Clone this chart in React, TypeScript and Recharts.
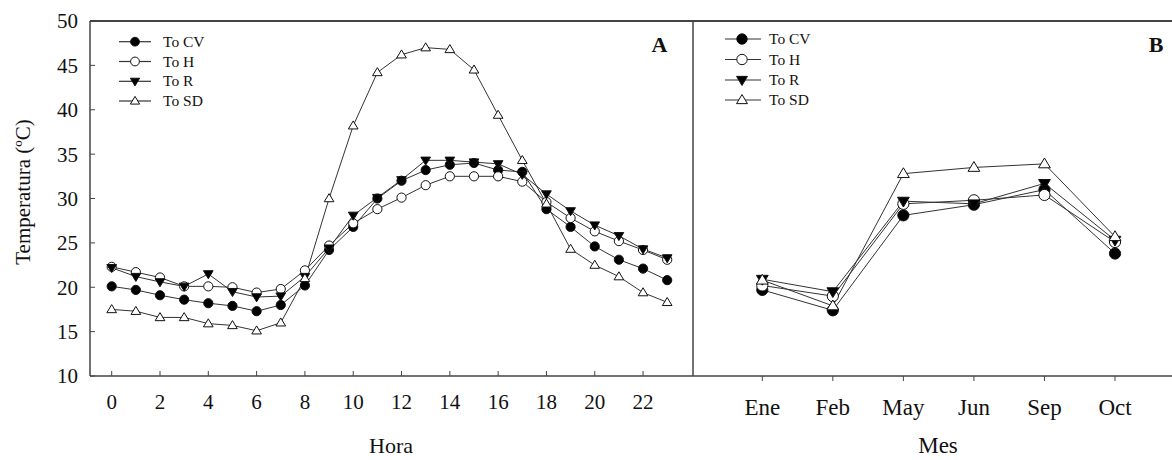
import React from 'react';
import { LineChart, Line, XAxis, YAxis, ReferenceLine, Customized } from 'recharts';

// ---- Data ----
const hours = [0, 1, 2, 3, 4, 5, 6, 7, 8, 9, 10, 11, 12, 13, 14, 15, 16, 17, 18, 19, 20, 21, 22, 23];
const hourlyCV = [20.1, 19.7, 19.1, 18.6, 18.2, 17.9, 17.3, 18.0, 20.2, 24.2, 26.8, 30.0, 32.0, 33.2, 33.8, 34.0, 33.2, 33.0, 28.8, 26.8, 24.6, 23.1, 22.1, 20.8];
const hourlyH = [22.3, 21.7, 21.1, 20.1, 20.1, 20.0, 19.4, 19.8, 21.9, 24.7, 27.2, 28.8, 30.1, 31.5, 32.5, 32.5, 32.5, 31.9, 29.6, 27.8, 26.3, 25.2, 24.2, 23.1];
const hourlyR = [22.2, 21.2, 20.6, 20.1, 21.5, 19.5, 18.9, 19.0, 21.2, 24.4, 28.1, 30.1, 32.1, 34.3, 34.3, 34.1, 33.9, 32.7, 30.5, 28.6, 27.0, 25.8, 24.3, 23.3];
const hourlySD = [17.5, 17.3, 16.6, 16.6, 15.9, 15.7, 15.1, 16.0, 21.0, 30.0, 38.2, 44.2, 46.2, 47.0, 46.8, 44.5, 39.4, 34.3, 29.4, 24.3, 22.5, 21.2, 19.4, 18.3];

const months = ['Ene', 'Feb', 'May', 'Jun', 'Sep', 'Oct'];
const monthCV = [19.7, 17.4, 28.1, 29.3, 31.0, 23.8];
const monthH = [20.2, 19.0, 29.4, 29.8, 30.4, 25.1];
const monthR = [20.9, 19.5, 29.7, 29.4, 31.7, 25.3];
const monthSD = [20.8, 17.9, 32.8, 33.5, 33.9, 25.7];

const yTicks = [10, 15, 20, 25, 30, 35, 40, 45, 50];

const hourlyData = hours.map((h, i) => ({ hour: h, cv: hourlyCV[i], h: hourlyH[i], r: hourlyR[i], sd: hourlySD[i] }));
const monthlyData = months.map((m, i) => ({ month: m, cv: monthCV[i], h: monthH[i], r: monthR[i], sd: monthSD[i] }));

// ---- Styles ----
const FONT = '"Liberation Serif", "Times New Roman", serif';
const INK = '#111';
const LINE = '#333';
const AXIS = '#444';

type Shape = 'circle' | 'down' | 'up';
const series: { key: string; name: string; shape: Shape; fill: string }[] = [
  { key: 'cv', name: 'To CV', shape: 'circle', fill: '#000' },
  { key: 'h', name: 'To H', shape: 'circle', fill: '#fff' },
  { key: 'r', name: 'To R', shape: 'down', fill: '#000' },
  { key: 'sd', name: 'To SD', shape: 'up', fill: '#fff' },
];

function marker(cx: number, cy: number, shape: Shape, fill: string, size: number, key?: any) {
  if (cx == null || cy == null || isNaN(cx) || isNaN(cy)) return <g key={key} />;
  if (shape === 'circle') {
    return <circle key={key} cx={cx} cy={cy} r={size} fill={fill} stroke={INK} strokeWidth={1} />;
  }
  const w = size * 1.05;
  const h = size * 1.75;
  const pts =
    shape === 'up'
      ? `${cx},${cy - h * 0.6} ${cx - w},${cy + h * 0.4} ${cx + w},${cy + h * 0.4}`
      : `${cx},${cy + h * 0.6} ${cx - w},${cy - h * 0.4} ${cx + w},${cy - h * 0.4}`;
  return <polygon key={key} points={pts} fill={fill} stroke={INK} strokeWidth={1} />;
}

function LegendBox({ x0, x1, mx, tx, rows, size }: { x0: number; x1: number; mx: number; tx: number; rows: number[]; size: number }) {
  return (
    <g>
      {series.map((s, i) => (
        <g key={s.key}>
          <line x1={x0} x2={x1} y1={rows[i]} y2={rows[i]} stroke={LINE} strokeWidth={1.2} />
          {marker(mx, rows[i], s.shape, s.fill, size)}
          <text x={tx} y={rows[i] + 5} fontFamily={FONT} fontSize={15.5} fill={INK}>
            {s.name}
          </text>
        </g>
      ))}
    </g>
  );
}

const tickStyleA = { fontFamily: FONT, fontSize: 21, fill: INK };
const tickStyleB = { fontFamily: FONT, fontSize: 23, fill: INK };

function PanelA() {
  return (
    <LineChart width={694} height={460} data={hourlyData} margin={{ top: 21, right: 0, bottom: 0, left: 0 }}>
      <XAxis
        dataKey="hour"
        interval={1}
        padding={{ left: 21.7, right: 25.8 }}
        height={84}
        tickSize={-5}
        tickMargin={23}
        tick={tickStyleA}
        tickLine={{ stroke: AXIS }}
        axisLine={{ stroke: AXIS, strokeWidth: 1.5 }}
      />
      <YAxis
        yAxisId="l"
        domain={[10, 50]}
        ticks={yTicks}
        type="number"
        width={90}
        tickSize={-5}
        tickMargin={17}
        tick={tickStyleA}
        tickLine={{ stroke: AXIS }}
        axisLine={{ stroke: AXIS, strokeWidth: 1.5 }}
        allowDataOverflow
      />
      <YAxis
        yAxisId="rr"
        orientation="right"
        domain={[10, 50]}
        ticks={yTicks}
        type="number"
        width={1}
        tickSize={-5}
        tick={false}
        tickLine={{ stroke: AXIS }}
        axisLine={{ stroke: AXIS, strokeWidth: 1.5 }}
      />
      <ReferenceLine yAxisId="l" y={50} stroke={AXIS} strokeWidth={2} />
      {series.map((s) => (
        <Line
          key={s.key}
          yAxisId="l"
          dataKey={s.key}
          stroke={LINE}
          strokeWidth={1}
          isAnimationActive={false}
          dot={(p: any) => marker(p.cx, p.cy, s.shape, s.fill, 4.6, p.index)}
          activeDot={false}
        />
      ))}
      <Customized
        component={() => (
          <g>
            <LegendBox x0={119} x1={151} mx={135} tx={163} rows={[41.7, 61.5, 81.3, 101]} size={4.4} />
            <text x={659.5} y={52} textAnchor="middle" fontFamily={FONT} fontWeight="bold" fontSize={22} fill={INK}>
              A
            </text>
            <text x={391} y={453} textAnchor="middle" fontFamily={FONT} fontSize={22} fill={INK}>
              Hora
            </text>
            <text
              x={30}
              y={192}
              transform="rotate(-90 30 192)"
              textAnchor="middle"
              fontFamily={FONT}
              fontSize={21}
              fill={INK}
            >
              Temperatura (ºC)
            </text>
          </g>
        )}
      />
    </LineChart>
  );
}

function PanelB() {
  return (
    <LineChart width={479} height={460} data={monthlyData} margin={{ top: 21, right: 0, bottom: 0, left: 0 }}>
      <XAxis
        dataKey="month"
        padding={{ left: 69.3, right: 57 }}
        height={84}
        tickSize={5}
        tickMargin={18}
        tick={tickStyleB}
        tickLine={{ stroke: AXIS }}
        axisLine={{ stroke: AXIS, strokeWidth: 1.5 }}
      />
      <YAxis domain={[10, 50]} ticks={yTicks} type="number" hide width={0} />
      <ReferenceLine y={50} stroke={AXIS} strokeWidth={2} />
      {series.map((s) => (
        <Line
          key={s.key}
          dataKey={s.key}
          stroke={LINE}
          strokeWidth={1}
          isAnimationActive={false}
          dot={(p: any) => marker(p.cx, p.cy, s.shape, s.fill, 5.6, p.index)}
          activeDot={false}
        />
      ))}
      <Customized
        component={() => (
          <g>
            <LegendBox x0={32} x1={68} mx={49} tx={76} rows={[39, 59.5, 80, 100]} size={5.2} />
            <text x={463} y={52} textAnchor="middle" fontFamily={FONT} fontWeight="bold" fontSize={22} fill={INK}>
              B
            </text>
            <text x={245} y={453} textAnchor="middle" fontFamily={FONT} fontSize={23} fill={INK}>
              Mes
            </text>
          </g>
        )}
      />
    </LineChart>
  );
}

export default function App() {
  return (
    <div style={{ position: 'absolute', left: 0, top: 0, width: 1172, height: 460, background: '#fff' }}>
      <div style={{ position: 'absolute', left: 0, top: 0 }}>
        <PanelA />
      </div>
      <div style={{ position: 'absolute', left: 693, top: 0 }}>
        <PanelB />
      </div>
    </div>
  );
}
